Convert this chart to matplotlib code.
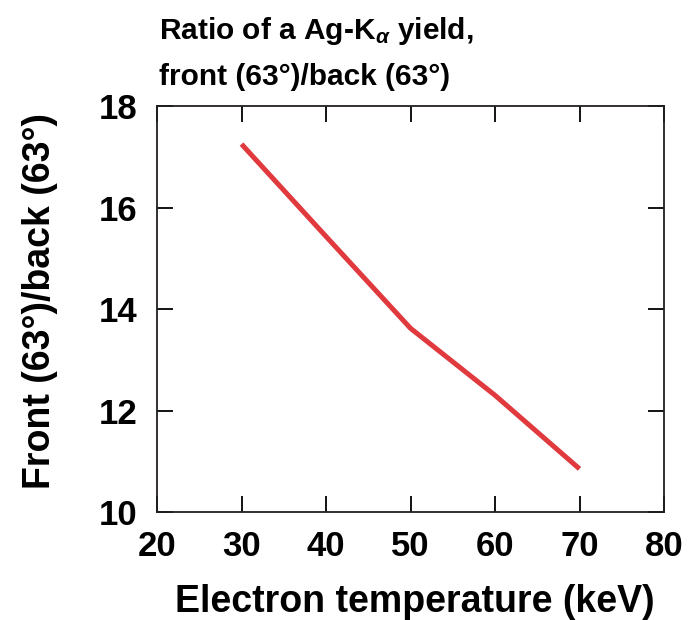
import matplotlib
matplotlib.use('Agg')
import matplotlib.pyplot as plt
from matplotlib import font_manager

# Front/back Ag-K alpha yield ratio vs electron temperature
temperature_kev = [30, 40, 50, 60, 70]
front_back_ratio = [17.25, 15.43, 13.62, 12.30, 10.85]

x_ticks = [20, 30, 40, 50, 60, 70, 80]
y_ticks = [10, 12, 14, 16, 18]

# heading uses a narrow face if there is one, else a smaller regular one
installed = {f.name for f in font_manager.fontManager.ttflist}
if 'Liberation Sans Narrow' in installed:
    head_family, head_size = 'Liberation Sans Narrow', 25
else:
    head_family, head_size = 'Liberation Sans', 21.5

plt.rcParams['font.family'] = ['Liberation Sans', 'DejaVu Sans']
plt.rcParams['font.weight'] = 'bold'
plt.rcParams['mathtext.fontset'] = 'custom'
plt.rcParams['mathtext.it'] = 'Liberation Sans:italic:bold'
plt.rcParams['mathtext.rm'] = 'Liberation Sans:bold'

fig = plt.figure(figsize=(6.95, 6.2), dpi=100)
ax = fig.add_axes([0.2259, 0.1742, 0.7295, 0.6548])

ax.plot(temperature_kev, front_back_ratio, color='#e03a3f', lw=3.6,
        solid_capstyle='butt')

ax.set_xlim(20, 80)
ax.set_ylim(10, 18)
ax.set_xticks(x_ticks)
ax.set_yticks(y_ticks)
ax.tick_params(direction='in', length=11.5, width=1.3, top=True, right=True,
               labelsize=25)
ax.tick_params(axis='y', pad=14)
ax.tick_params(axis='x', pad=13)
for s in ax.spines.values():
    s.set_linewidth(1.3)
    s.set_color('#231f20')

# axis titles
fig.text(415 / 695, 1 - 612 / 620, 'Electron temperature (keV)',
         ha='center', va='baseline', fontsize=27, fontweight='bold')
fig.text(50 / 695, 1 - 301 / 620, 'Front (63°)/back (63°)', rotation=90,
         rotation_mode='anchor', ha='center', va='baseline',
         fontsize=27, fontweight='bold')

# two-line heading
fig.text(159 / 695, 1 - 39 / 620, r'Ratio of a Ag-K$_{\alpha}$ yield,',
         ha='left', va='baseline', fontsize=head_size, fontweight='bold',
         family=head_family)
fig.text(159 / 695, 1 - 85 / 620, 'front (63°)/back (63°)',
         ha='left', va='baseline', fontsize=head_size, fontweight='bold',
         family=head_family)

fig.savefig('out.png', dpi=100, facecolor='white')
